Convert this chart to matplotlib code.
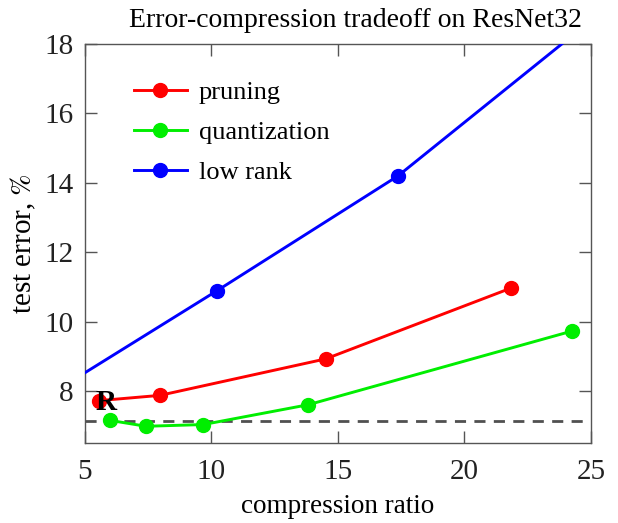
import numpy as np
import matplotlib
matplotlib.use("Agg")
import matplotlib.pyplot as plt

plt.rcParams['font.family'] = ['Liberation Serif', 'DejaVu Serif']
plt.rcParams['mathtext.fontset'] = 'stix'

# data
pruning_x = [5.57, 7.96, 14.51, 21.84]
pruning_y = [7.73, 7.88, 8.93, 10.97]
quant_x = [5.99, 7.41, 9.68, 13.82, 24.24]
quant_y = [7.16, 6.99, 7.04, 7.61, 9.73]
lowrank_x = [4.0, 10.23, 17.37, 27.0]
lowrank_y = [8.08, 10.90, 14.20, 19.85]
reference_err = 7.13
ref_label = (5.85, 7.675)

fig = plt.figure(figsize=(6.18, 5.23), dpi=100)
ax = fig.add_axes([0.1375, 0.1524, 0.8188, 0.7635])

lw = 2.1
ms = 10
ax.plot(pruning_x, pruning_y, '-o', color='#ff0000', lw=lw, ms=ms, label='pruning', zorder=3)
ax.plot(quant_x, quant_y, '-o', color='#00ee00', lw=lw, ms=ms, label='quantization', zorder=3)
ax.plot(lowrank_x, lowrank_y, '-o', color='#0000ff', lw=lw, ms=ms, label='low rank', zorder=3)
ax.axhline(reference_err, color='#505050', lw=2.0, ls=(0, (4, 3)), zorder=2)
ax.text(ref_label[0], ref_label[1], 'R', fontsize=21, fontweight='bold',
        ha='center', va='center', zorder=4)

ax.set_xlim(5, 25)
ax.set_ylim(6.5, 18)
ax.set_xticks([5, 10, 15, 20, 25])
ax.set_yticks([8, 10, 12, 14, 16, 18])

ax.tick_params(direction='in', length=8.5, width=1.0, top=True, right=True,
               labelsize=21, colors='#555555', labelcolor='#222222')
ax.tick_params(axis='x', pad=11)
ax.tick_params(axis='y', pad=8)
for s in ax.spines.values():
    s.set_color('#555555')
    s.set_linewidth(1.0)

ax.set_xlabel('compression ratio', fontsize=19.5, labelpad=7)
ax.set_ylabel('test error, $\\mathit{\\%}$', fontsize=21, labelpad=5)
ax.set_title('Error-compression tradeoff on ResNet32', fontsize=20, x=0.535, pad=12)

leg = ax.legend(loc='upper left', bbox_to_anchor=(0.05, 0.968), frameon=False,
                fontsize=19, handlelength=2.0, handletextpad=0.45, labelspacing=0.63)

fig.savefig('out.png', dpi=100)
